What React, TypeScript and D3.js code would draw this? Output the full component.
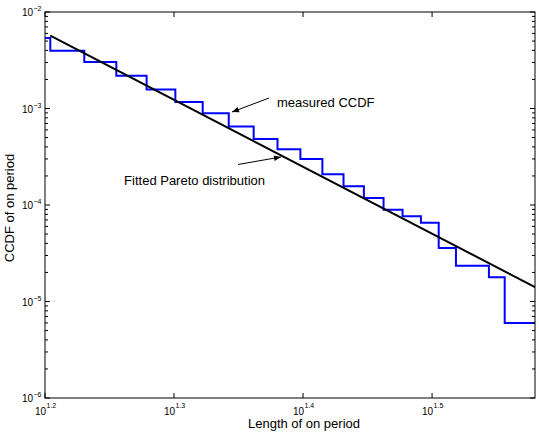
import React from 'react';
import * as d3 from 'd3';

// measured CCDF, one level per on-period length (step after)
const ccdfLength = [15, 16, 17, 18, 19, 20, 21, 22, 23, 24, 25, 26, 27, 28, 29, 30, 31, 32, 33, 35, 36, 38];
const ccdfValue = [
  5.38e-3, 3.97e-3, 3.04e-3, 2.18e-3, 1.57e-3, 1.17e-3, 8.94e-4, 6.5e-4, 4.84e-4, 3.79e-4, 2.99e-4,
  2.08e-4, 1.56e-4, 1.18e-4, 8.92e-5, 7.64e-5, 6.55e-5, 3.58e-5, 2.35e-5, 1.78e-5, 5.99e-6, 5.99e-6,
];

// fitted Pareto line (straight in log-log)
const fitLength = [16, 38];
const fitValue = [5.69e-3, 1.41e-5];

const xTickExp = ['1.2', '1.3', '1.4', '1.5'];
const yTickExp = ['-2', '-3', '-4', '-5', '-6'];

const W = 539;
const H = 432;
const M = { left: 45, right: 535, top: 12, bottom: 398 };
const font = '"Liberation Sans", Arial, Helvetica, sans-serif';

export default function App() {
  const x = d3.scaleLog().domain([10 ** 1.2, 38]).range([M.left, M.right]);
  const y = d3.scaleLog().domain([1e-6, 1e-2]).range([M.bottom, M.top]);

  const step = d3
    .line<number>()
    .x((_, i) => x(ccdfLength[i]))
    .y((d) => y(d))
    .curve(d3.curveStepAfter);

  const fit = d3
    .line<number>()
    .x((_, i) => x(fitLength[i]))
    .y((d) => y(d));

  const minorY: number[] = [];
  for (let e = -6; e < -2; e++) {
    for (let k = 2; k <= 9; k++) minorY.push(k * 10 ** e);
  }

  return (
    <div style={{ position: 'absolute', left: 0, top: 0 }}>
      <svg width={W} height={H} style={{ display: 'block', background: '#fff' }} fontFamily={font}>
        <defs>
          <clipPath id="plot">
            <rect x={M.left} y={M.top} width={M.right - M.left} height={M.bottom - M.top} />
          </clipPath>
          <marker id="arrow" viewBox="0 0 10 10" refX="10" refY="5" markerWidth="9" markerHeight="7" orient="auto">
            <path d="M0,1 L10,5 L0,9 z" fill="#000" />
          </marker>
        </defs>

        <g clipPath="url(#plot)">
          <path d={step(ccdfValue) || ''} fill="none" stroke="#0000ff" strokeWidth={2} />
          <path d={fit(fitValue) || ''} fill="none" stroke="#000" strokeWidth={2} />
        </g>

        {/* box */}
        <rect x={M.left} y={M.top} width={M.right - M.left} height={M.bottom - M.top} fill="none" stroke="#000" strokeWidth={1} />

        {/* y ticks */}
        {yTickExp.map((e) => {
          const ty = y(10 ** +e);
          return (
            <g key={e}>
              <line x1={M.left} x2={M.left + 5} y1={ty} y2={ty} stroke="#000" />
              <line x1={M.right} x2={M.right - 5} y1={ty} y2={ty} stroke="#000" />
              <text x={33} y={ty + 4} fontSize={10} textAnchor="end">10</text>
              <text x={33.5} y={ty - 1} fontSize={7}>{e.replace('-', '\u2212')}</text>
            </g>
          );
        })}
        {minorY.map((v, i) => (
          <g key={i}>
            <line x1={M.left} x2={M.left + 3} y1={y(v)} y2={y(v)} stroke="#000" />
            <line x1={M.right} x2={M.right - 3} y1={y(v)} y2={y(v)} stroke="#000" />
          </g>
        ))}

        {/* x ticks */}
        {xTickExp.map((e) => {
          const tx = x(10 ** +e);
          return (
            <g key={e}>
              <line x1={tx} x2={tx} y1={M.bottom} y2={M.bottom - 5} stroke="#000" />
              <line x1={tx} x2={tx} y1={M.top} y2={M.top + 5} stroke="#000" />
              <text x={tx + 1} y={415} fontSize={10} textAnchor="end">10</text>
              <text x={tx + 1.5} y={408} fontSize={7}>{e}</text>
            </g>
          );
        })}

        {/* axis labels */}
        <text x={304} y={428} fontSize={13} textAnchor="middle">Length of on period</text>
        <text transform={`translate(14,${(M.top + M.bottom) / 2 + 3}) rotate(-90)`} fontSize={13} textAnchor="middle">
          CCDF of on period
        </text>

        {/* annotations */}
        <line x1={269} y1={98} x2={232} y2={112} stroke="#000" strokeWidth={1} markerEnd="url(#arrow)" />
        <text x={277} y={106.5} fontSize={13}>measured CCDF</text>
        <line x1={238} y1={164.5} x2={281} y2={157} stroke="#000" strokeWidth={1} markerEnd="url(#arrow)" />
        <text x={265} y={184.5} fontSize={13} textAnchor="end">Fitted Pareto distribution</text>
      </svg>
    </div>
  );
}
